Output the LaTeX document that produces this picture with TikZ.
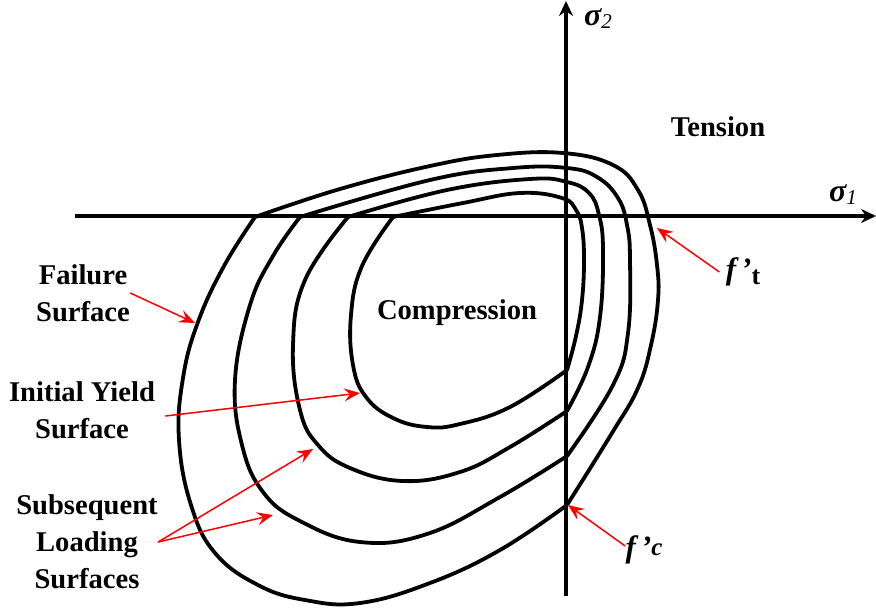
\documentclass[tikz,border=0pt]{standalone}
\usepackage{fontspec}
\setmainfont{Liberation Serif}
\usetikzlibrary{arrows.meta}

\begin{document}
\begin{tikzpicture}[x=0.5pt, y=-0.5pt,
  surf/.style={line width=1.9pt, line join=round, line cap=round},
  axis/.style={line width=1.9pt, -{Stealth[length=7.5pt, width=7pt, inset=2.5pt]}},
  lbl/.style={font=\fontsize{14.3}{18.5}\selectfont\bfseries, align=center, inner sep=0pt},
  arr/.style={-{Stealth[length=8pt, width=6.5pt, inset=3pt]}, red, line width=0.75pt}
]
\useasboundingbox (0,0) rectangle (876,611);

% axes
\coordinate (xl) at (75,216);
\coordinate (xr) at (876,216);
\coordinate (yb) at (566,596);
\coordinate (yt) at (566,1);
\draw[axis] (xl) -- (xr);
\draw[axis] (yb) -- (yt);

% failure surface
\draw[surf] plot[smooth, tension=0.7] coordinates {(255,217) (340,189) (430,166) (497,155) (563,153)
  (613,165) (638,190) (650,225) (657,265) (658,300) (651,345) (638,388) (612,433) (567,505)};
\draw[surf] plot[smooth, tension=0.7] coordinates {(567,505) (500,550) (430,583) (360,603) (305,600)
  (258,585) (215,553) (191,505) (179,440) (183,378) (198,322) (224,266) (255,217)};

% subsequent loading surfaces
\draw[surf] plot[smooth, tension=0.7] coordinates {(300,217) (430,180) (513,168) (567,168) (597,177)
  (618,198) (627,225) (630,260) (628,333) (613,385) (567,456)};
\draw[surf] plot[smooth, tension=0.7] coordinates {(567,456) (500,497) (427,534) (360,542) (300,521)
  (263,492) (242,445) (235,380) (250,305) (273,256) (300,217)};
\draw[surf] plot[smooth, tension=0.7] coordinates {(348,217) (447,190) (530,179) (567,182) (589,193)
  (599,215) (603,250) (600,317) (588,367) (567,411)};
\draw[surf] plot[smooth, tension=0.7] coordinates {(567,411) (510,447) (460,472) (403,481) (350,468)
  (318,445) (300,410) (293,345) (305,280) (348,217)};

% initial yield surface
\draw[surf] plot[smooth, tension=0.7] coordinates {(393,217) (463,203) (520,193) (562,198) (576,210)
  (582,228) (584,260) (582,300) (576,336) (567,370)};
\draw[surf] plot[smooth, tension=0.7] coordinates {(567,370) (510,407) (460,424) (427,427) (393,418)
  (366,397) (353,365) (351,315) (362,266) (393,217)};

% labels
\node[inner sep=0pt] (s2) at (598,19)
  {\fontsize{16}{16}\selectfont\bfseries\itshape σ\raisebox{-1.5pt}{\fontsize{10.5}{10.5}\selectfont\mdseries 2}};
\node[inner sep=0pt] (s1) at (843,195)
  {\fontsize{16}{16}\selectfont\bfseries\itshape σ\raisebox{-1.5pt}{\fontsize{10.5}{10.5}\selectfont\mdseries 1}};
\node[lbl] (tens) at (718,127) {Tension};
\node[lbl] (comp) at (457,313) {Compression};
\node[lbl] (fail) at (83,293) {Failure\\Surface};
\node[lbl] (init) at (82,410) {Initial Yield\\Surface};
\node[lbl] (subs) at (87,542) {Subsequent\\Loading\\Surfaces};
\node[inner sep=0pt] (ft) at (743,272)
  {\fontsize{15.5}{15.5}\selectfont\bfseries\itshape f\,’\upshape\raisebox{-2.5pt}{\fontsize{13}{13}\selectfont t}};
\node[inner sep=0pt] (fc) at (644,550)
  {\fontsize{15.5}{15.5}\selectfont\bfseries\itshape f\,’\raisebox{1pt}{\fontsize{12.5}{12.5}\selectfont c}};

% pointers
\coordinate (failpt) at (195,323);
\coordinate (initpt) at (360,393);
\coordinate (subpta) at (313,449);
\coordinate (subptb) at (273,515);
\coordinate (ftpt) at (657,228);
\coordinate (fcpt) at (568,505);
\draw[arr] (fail.east) -- (failpt);
\draw[arr] ([xshift=5pt,yshift=-3pt]init.east) -- (initpt);
\draw[arr] (subs.east) -- (subpta);
\draw[arr] (subs.east) -- (subptb);
\draw[arr] ([xshift=-3pt]ft.west) -- (ftpt);
\draw[arr] ([yshift=2pt]fc.west) -- (fcpt);
\end{tikzpicture}
\end{document}
